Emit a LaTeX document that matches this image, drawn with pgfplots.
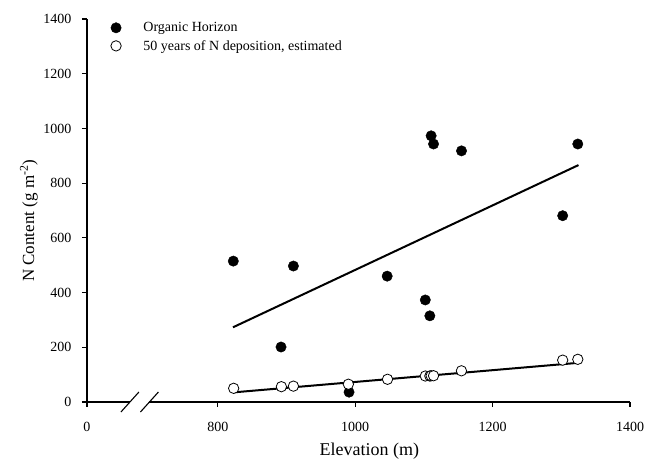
\documentclass[border=0pt]{standalone}
\usepackage{fontspec}
\setmainfont{Liberation Serif}
\usepackage{pgfplots}
\pgfplotsset{compat=1.18}

\begin{document}
\begin{tikzpicture}
\useasboundingbox (-87pt,-58pt) rectangle (559pt,402pt);
\begin{axis}[
  at={(0,0)}, anchor=south west,
  scale only axis, width=543pt, height=383pt,
  xmin=609.5, xmax=1400, ymin=0, ymax=1400,
  axis x line*=bottom, axis y line*=left,
  axis line style={line width=1.3pt, -},
  tick align=outside, major tick length=5pt,
  tick style={line width=1.1pt, black},
  xtick={609.5,800,1000,1200,1400}, xticklabels={0,800,1000,1200,1400},
  ytick={0,200,...,1400},
  /pgf/number format/assume math mode=true,
  /pgf/number format/1000 sep={},
  tick label style={font=\fontsize{14}{16}\selectfont},
  yticklabel style={xshift=-7pt},
  xticklabel style={yshift=-12pt},
  xlabel={Elevation (m)},
  xlabel style={font=\fontsize{18}{20}\selectfont, at={(rel axis cs:0.52,0)}, anchor=north, yshift=-37pt},
  ylabel={N Content (g m\textsuperscript{-2})},
  ylabel style={font=\fontsize{17}{19}\selectfont, at={(rel axis cs:-0.107,0.473)}, anchor=center},
  legend style={draw=none, fill=none, at={(rel axis cs:0.034,1.002)}, anchor=north west,
    font=\fontsize{14}{16}\selectfont, row sep=3pt,
    legend cell align=left},
  legend image code/.code={\path (0pt,0pt) (32pt,0pt); \draw[#1] plot coordinates {(7pt,0pt)};},
  clip=false,
]
% fitted lines
\addplot[black, line width=2pt, forget plot] coordinates {(822,273) (1325,866)};
\addplot[black, line width=2pt, forget plot] coordinates {(822,35) (1324,143)};
% Organic Horizon
\addplot[only marks, mark=*, mark size=5.2pt, black] coordinates {
  (822.5,515) (892,201) (910,497) (991,36) (1046.5,460) (1102,373)
  (1108.6,315) (1110.5,973) (1114,943) (1154.7,918) (1302,681) (1324,943)};
\addlegendentry{Organic Horizon}
% 50 years of N deposition
\addplot[only marks, mark=*, mark size=5.2pt, black, line width=0.8pt, fill=white] coordinates {
  (823,50) (892.5,56) (910,58) (990,65) (1047,83) (1102,95)
  (1108.6,95) (1110.5,96) (1114,96) (1154.6,114) (1302,153) (1324,156)};
\addlegendentry{50 years of N deposition, estimated}
% axis break
\fill[white] ([yshift=-3pt]axis cs:672,0) rectangle ([yshift=3pt]axis cs:700.4,0);
\draw[line width=1.1pt] ([xshift=-9pt,yshift=-10pt]axis cs:672,0) -- ([xshift=9pt,yshift=10pt]axis cs:672,0);
\draw[line width=1.1pt] ([xshift=-9pt,yshift=-10pt]axis cs:700.4,0) -- ([xshift=9pt,yshift=10pt]axis cs:700.4,0);
\end{axis}
\end{tikzpicture}
\end{document}
